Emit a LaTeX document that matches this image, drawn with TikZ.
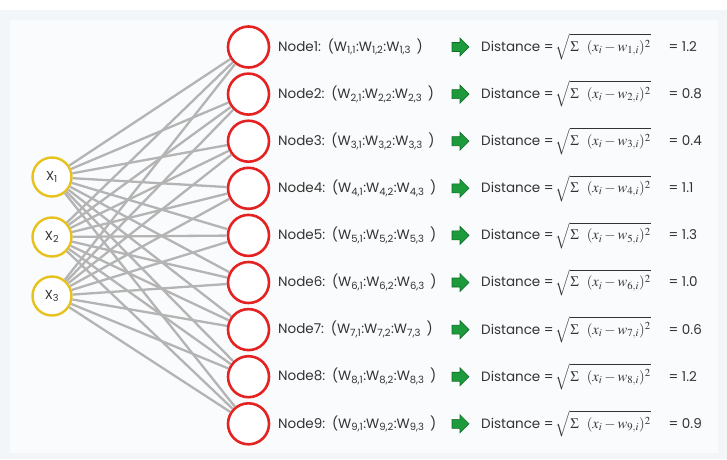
\documentclass[tikz,border=0pt]{standalone}
\usepackage{mathptmx}
\usepackage{fontspec}
\setmainfont{Poppins}
\definecolor{bgout}{HTML}{F2F6F8}
\definecolor{bgin}{HTML}{FAFBFC}
\definecolor{redc}{HTML}{E52222}
\definecolor{yelc}{HTML}{E8C21C}
\definecolor{edgec}{HTML}{B4B4B4}
\definecolor{txtc}{HTML}{333333}
\definecolor{grn}{HTML}{1C9A3C}
\definecolor{grnd}{HTML}{0E6E28}
\newcommand{\distf}[1]{$\sqrt{\rule[-5pt]{0pt}{17pt}\Sigma\ \ (x_i - w_{#1,i})^2}$}
\tikzset{
  outnode/.style={circle, draw=redc, line width=2.6pt, fill=white, minimum size=41pt, inner sep=0pt},
  innode/.style={circle, draw=yelc, line width=2.4pt, fill=white, minimum size=39pt, inner sep=0pt, font=\fontsize{13}{15}\selectfont, text=txtc},
  conn/.style={draw=edgec, line width=2.3pt},
  lbl/.style={anchor=west, inner sep=0pt, font=\fontsize{13.5}{16}\selectfont, text=txtc},
  garrow/.style={fill=grn, draw=grnd, line width=0.6pt, line join=miter}
}
\begin{document}
\begin{tikzpicture}[x=1pt,y=-1pt]
\useasboundingbox (0,0) rectangle (727,459);
\fill[white] (0,0) rectangle (727,459);
\fill[bgout] (0,10) rectangle (727,459);
\fill[bgin] (10,20) rectangle (718,453);
% input nodes
\node[innode] (x1) at (52,177) {X\textsubscript{1}};
\node[innode] (x2) at (52,237) {X\textsubscript{2}};
\node[innode] (x3) at (52,296) {X\textsubscript{3}};
% output nodes
\foreach \i/\d in {1/1.2,2/0.8,3/0.4,4/1.1,5/1.3,6/1.0,7/0.6,8/1.2,9/0.9}{
  \pgfmathsetmacro{\yy}{47+(\i-1)*47.1}
  \node[outnode] (n\i) at (248.5,\yy) {};
  \node[lbl] (t\i) at (278,\yy) {Node\i:\hspace{2pt} (W\textsubscript{\i,1}:W\textsubscript{\i,2}:W\textsubscript{\i,3}\hspace{2pt} )};
  \coordinate (a\i) at (460,\yy);
  \draw[garrow,shift={(a\i)}] (-8,-4.5) -- (0,-4.5) -- (0,-9) -- (9,0) -- (0,9) -- (0,4.5) -- (-8,4.5) -- cycle;
  \node[lbl] (d\i) at (481,\yy) {Distance =\,\textcolor{txtc}{\fontsize{14.5}{17}\selectfont\distf{\i}}\hspace{18pt}= \d};
}
% connections
\foreach \a in {1,2,3}{
  \foreach \b in {1,...,9}{
    \draw[conn] (x\a) -- (n\b);
  }
}
\end{tikzpicture}
\end{document}
